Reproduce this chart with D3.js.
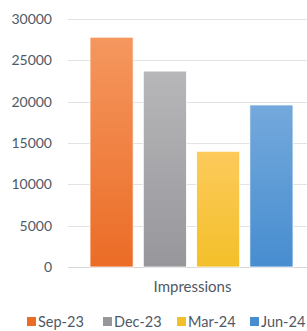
<!DOCTYPE html>
<html>
<head>
<meta charset="utf-8">
<script src="https://cdn.jsdelivr.net/npm/d3@7"></script>
<style>
  body { margin: 0; background: #fff; }
  svg { display: block; }
</style>
</head>
<body>
<div id="chart"></div>
<script>
var categories = ['Impressions'];
var seriesNames = ['Sep-23', 'Dec-23', 'Mar-24', 'Jun-24'];
var seriesValues = [27800, 23700, 14000, 19600];
var yTicks = [0, 5000, 10000, 15000, 20000, 25000, 30000];

var width = 307,
    height = 331;

var plotLeft = 68,
    plotRight = 315,
    plotTop = 19,
    plotBottom = 267;

var textColor = '#4f5966',
    gridColor = '#e3e3e3',
    axisColor = '#d6d6d6';

// top / bottom gradient stops per series
var colorsTop = ['#f5975f', '#b7b7ba', '#fdca5c', '#74a9dc'];
var colorsBottom = ['#eb6c26', '#97979b', '#f3c02a', '#478dd0'];

var fontFamily = 'Lato, sans-serif',
    tickFontSize = '14px',
    fontSize = '15px',
    legendFontSize = '14.5px';

var svg = d3.select('#chart')
  .append('svg')
  .attr('width', width)
  .attr('height', height);

var defs = svg.append('defs');
seriesNames.forEach(function(name, i) {
  var grad = defs.append('linearGradient')
    .attr('id', 'grad' + i)
    .attr('x1', 0).attr('y1', 0)
    .attr('x2', 0).attr('y2', 1);
  grad.append('stop').attr('offset', '0%').attr('stop-color', colorsTop[i]);
  grad.append('stop').attr('offset', '100%').attr('stop-color', colorsBottom[i]);
});

var y = d3.scaleLinear()
  .domain([0, 30000])
  .range([plotBottom, plotTop]);

var x0 = d3.scaleBand()
  .domain(categories)
  .range([plotLeft, plotRight]);

var x1 = d3.scaleBand()
  .domain(seriesNames)
  .range([22, x0.bandwidth() - 22])
  .paddingInner(0.19);

// gridlines
svg.append('g')
  .selectAll('line')
  .data(yTicks)
  .enter()
  .append('line')
  .attr('x1', plotLeft)
  .attr('x2', width)
  .attr('y1', function(d) { return Math.round(y(d)) + 0.5; })
  .attr('y2', function(d) { return Math.round(y(d)) + 0.5; })
  .style('stroke', function(d) { return d === 0 ? axisColor : gridColor; });

// y labels
var yAxis = d3.axisLeft(y).tickValues(yTicks).tickFormat(d3.format('d')).tickSize(0).tickPadding(0);
var yg = svg.append('g')
  .attr('transform', 'translate(52,0)')
  .call(yAxis);
yg.select('.domain').remove();
yg.selectAll('text')
  .attr('font-family', fontFamily)
  .attr('font-size', tickFontSize)
  .attr('fill', textColor);

// bars
var groups = svg.append('g')
  .selectAll('g')
  .data(categories)
  .enter()
  .append('g')
  .attr('transform', function(d) { return 'translate(' + x0(d) + ',0)'; });

groups.selectAll('rect')
  .data(seriesNames.map(function(name, i) { return { name: name, value: seriesValues[i], i: i }; }))
  .enter()
  .append('rect')
  .attr('x', function(d) { return x1(d.name); })
  .attr('y', function(d) { return y(d.value); })
  .attr('width', x1.bandwidth())
  .attr('height', function(d) { return y(0) - y(d.value); })
  .attr('fill', function(d) { return 'url(#grad' + d.i + ')'; })
  .style('stroke', '#fff')
  .style('stroke-width', 0.8);

// category label
var xAxis = d3.axisBottom(x0).tickSize(0).tickPadding(0);
var xg = svg.append('g')
  .attr('transform', 'translate(1,' + 281 + ')')
  .call(xAxis);
xg.select('.domain').remove();
xg.selectAll('text')
  .attr('font-family', fontFamily)
  .attr('font-size', fontSize)
  .attr('fill', textColor);

// legend - sits at the very bottom edge
var legendX = [27, 103, 177, 250];
var legend = svg.append('g')
  .selectAll('g')
  .data(seriesNames)
  .enter()
  .append('g')
  .attr('transform', function(d, i) { return 'translate(' + legendX[i] + ',317)'; });

legend.append('rect')
  .attr('width', 9)
  .attr('height', 9)
  .attr('fill', function(d, i) { return colorsBottom[i]; });

legend.append('text')
  .text(function(d) { return d; })
  .attr('x', 11)
  .attr('y', 9.5)
  .attr('font-family', fontFamily)
  .attr('font-size', legendFontSize)
  .attr('fill', textColor);
</script>
</body>
</html>
